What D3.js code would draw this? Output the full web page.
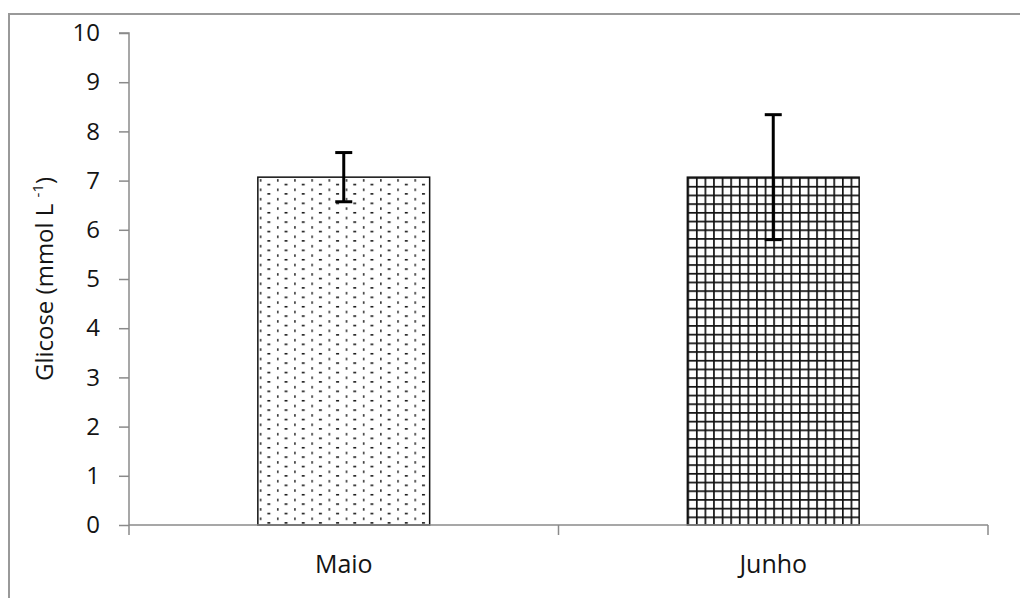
<!DOCTYPE html>
<html>
<head>
<meta charset="utf-8">
<script src="https://cdn.jsdelivr.net/npm/d3@7"></script>
<style>
  body { margin: 0; background: #fff; }
  text { font-family: "Open Sans", Lato, sans-serif; fill: #141414; }
</style>
</head>
<body>
<svg id="chart" width="1020" height="598"></svg>
<script>
// data
const months = ["Maio", "Junho"];
const glucose = [7.07, 7.07];
const errors = [0.5, 1.27];
const yTicks = [0, 1, 2, 3, 4, 5, 6, 7, 8, 9, 10];

const svg = d3.select("#chart");
const defs = svg.append("defs");

const margin = { left: 129, right: 32, top: 33, bottom: 73 };
const width = 1020, height = 598;

const x = d3.scaleBand()
    .domain(months)
    .range([margin.left, width - margin.right])
    .paddingInner(0.6)
    .paddingOuter(0.3);

const y = d3.scaleLinear()
    .domain([0, 10])
    .range([height - margin.bottom, margin.top]);

// patterns
const dots = defs.append("pattern")
    .attr("id", "dots")
    .attr("patternUnits", "userSpaceOnUse")
    .attr("x", x("Maio")).attr("y", y(glucose[0]))
    .attr("width", x.bandwidth() / 10).attr("height", 9.4);
dots.append("rect").attr("x", 2).attr("y", 2).attr("width", 1.5).attr("height", 2.5).attr("fill", "#222");
dots.append("rect").attr("x", 9.5).attr("y", 6.6).attr("width", 3).attr("height", 1.5).attr("fill", "#111");

const grid = defs.append("pattern")
    .attr("id", "grid")
    .attr("patternUnits", "userSpaceOnUse")
    .attr("x", x("Junho")).attr("y", y(glucose[1]))
    .attr("width", x.bandwidth() / 20).attr("height", 8.7);
grid.append("rect").attr("x", 0).attr("y", 0).attr("width", 1.7).attr("height", 8.7).attr("fill", "#111");
grid.append("rect").attr("x", 0).attr("y", 0).attr("width", x.bandwidth() / 20).attr("height", 1.7).attr("fill", "#111");

// outer frame
svg.append("rect")
    .attr("x", 9).attr("y", 14)
    .attr("width", 1030).attr("height", 600)
    .attr("fill", "none")
    .attr("stroke", "#999")
    .attr("stroke-width", 2);

// bars
const fills = ["url(#dots)", "url(#grid)"];
svg.append("g").selectAll("rect")
    .data(months).enter().append("rect")
    .attr("x", d => x(d))
    .attr("y", (d, i) => y(glucose[i]))
    .attr("width", x.bandwidth())
    .attr("height", (d, i) => y(0) - y(glucose[i]))
    .attr("fill", (d, i) => fills[i])
    .attr("stroke", "#111")
    .attr("stroke-width", 1.5);

// axes
const yAxis = svg.append("g")
    .attr("transform", `translate(${margin.left},0)`)
    .call(d3.axisLeft(y).tickValues(yTicks).tickSize(10).tickPadding(19));
yAxis.selectAll("text").style("font-size", "24px").style("font-family", null);

const xAxis = svg.append("g")
    .attr("transform", `translate(0,${y(0)})`)
    .call(d3.axisBottom(x).tickSize(0).tickPadding(30));
xAxis.selectAll("text").style("font-size", "25px");
svg.selectAll("g").attr("font-family", null);

// x dividers between categories
const xEdges = [margin.left, margin.left + (width - margin.right - margin.left) / 2, width - margin.right];
xAxis.selectAll(".divider")
    .data(xEdges).enter().append("line")
    .attr("x1", d => d).attr("x2", d => d)
    .attr("y1", 0).attr("y2", 10);

svg.selectAll(".domain, .tick line, g line")
    .attr("stroke", "#8a8a8a")
    .attr("stroke-width", 1.5);
yAxis.select(".domain").attr("d", `M-10,${y(10)}H0V${y(0)}`);
xAxis.select(".domain").attr("d", `M${margin.left},0H${width - margin.right}`);

// error bars
const err = svg.append("g").attr("stroke", "#000").attr("stroke-width", 3);
months.forEach((m, i) => {
    const cx = x(m) + x.bandwidth() / 2;
    err.append("line")
        .attr("x1", cx).attr("x2", cx)
        .attr("y1", y(glucose[i] + errors[i])).attr("y2", y(glucose[i] - errors[i]));
    [glucose[i] + errors[i], glucose[i] - errors[i]].forEach(v => {
        err.append("line")
            .attr("x1", cx - 8.5).attr("x2", cx + 8.5)
            .attr("y1", y(v)).attr("y2", y(v));
    });
});

// y label
const yLabel = svg.append("text")
    .attr("transform", `translate(53,279) rotate(-90)`)
    .attr("text-anchor", "middle")
    .style("font-size", "24px");
yLabel.append("tspan").text("Glicose (mmol L ");
yLabel.append("tspan").attr("dy", -10).style("font-size", "15px").text("-1");
yLabel.append("tspan").attr("dy", 10).text(")");
</script>
</body>
</html>
